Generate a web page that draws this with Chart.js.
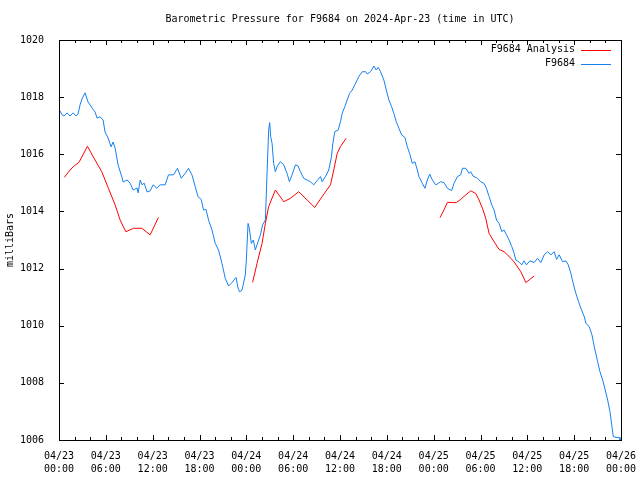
<!DOCTYPE html>
<html>
<head>
<meta charset="utf-8">
<script src="https://cdn.jsdelivr.net/npm/chart.js"></script>
<style>
  body { margin: 0; background: #fff; }
  #wrap { width: 640px; height: 480px; }
</style>
</head>
<body>
<div id="wrap"><canvas id="myChart" width="640" height="480"></canvas></div>
<script>
// hours since 04/23 00:00 UTC
var blueHours = [
  0.13, 0.39, 0.64, 1.03, 1.41, 1.80, 2.18, 2.44, 2.70, 2.95,
  3.34, 3.72, 4.24, 4.62, 4.88, 5.26, 5.65, 5.90, 6.29, 6.67,
  6.93, 7.19, 7.57, 8.09, 8.21, 8.73, 9.11, 9.50, 10.01, 10.14,
  10.40, 10.65, 10.91, 11.29, 11.68, 12.06, 12.54, 12.96, 13.60, 14.03,
  14.67, 15.18, 15.66, 16.17, 16.59, 17.03, 17.45, 17.80, 18.22, 18.52,
  18.83, 19.16, 19.60, 20.02, 20.44, 20.88, 21.30, 21.73, 22.16, 22.68,
  22.93, 23.14, 23.45, 23.87, 24.00, 24.22, 24.38, 24.64, 24.90, 25.15,
  25.50, 25.80, 26.09, 26.44, 26.66, 26.86, 26.99, 27.12, 27.30, 27.50,
  27.72, 27.94, 28.36, 28.79, 29.22, 29.52, 29.86, 30.29, 30.63, 30.93,
  31.35, 31.79, 32.21, 32.64, 33.07, 33.50, 33.71, 34.14, 34.56, 34.91,
  35.08, 35.33, 35.77, 36.06, 36.28, 36.62, 36.92, 37.22, 37.57, 37.99,
  38.41, 38.85, 39.27, 39.49, 39.91, 40.34, 40.65, 40.90, 41.20, 41.62,
  41.93, 42.26, 42.61, 42.90, 43.21, 43.55, 43.89, 44.32, 44.62, 44.92,
  45.27, 45.60, 45.91, 46.11, 46.55, 46.88, 47.19, 47.49, 47.83, 48.26,
  48.64, 48.90, 49.32, 49.76, 50.31, 50.60, 51.04, 51.46, 51.68, 52.11,
  52.53, 52.75, 53.04, 53.61, 54.03, 54.46, 54.76, 55.10, 55.44, 55.74,
  56.05, 56.38, 56.73, 57.02, 57.33, 57.66, 58.01, 58.31, 58.52, 58.74,
  59.04, 59.29, 59.59, 59.89, 60.32, 60.87, 61.31, 61.73, 62.16, 62.59,
  63.02, 63.44, 63.75, 64.08, 64.52, 64.94, 65.24, 65.58, 65.88, 66.22,
  66.57, 66.86, 67.29, 67.51, 67.93, 68.28, 68.57, 69.01, 69.30, 69.65,
  69.98, 70.29, 70.59, 70.84, 71.01, 71.36, 71.78, 71.87
];
var blueValues = [
  1017.52, 1017.38, 1017.34, 1017.45, 1017.34, 1017.45, 1017.34, 1017.41, 1017.73, 1017.94,
  1018.15, 1017.83, 1017.62, 1017.48, 1017.27, 1017.31, 1017.20, 1016.78, 1016.57, 1016.26,
  1016.43, 1016.22, 1015.63, 1015.17, 1015.03, 1015.10, 1014.99, 1014.75, 1014.82, 1014.65,
  1015.10, 1014.93, 1014.99, 1014.68, 1014.72, 1014.93, 1014.81, 1014.93, 1014.93, 1015.28,
  1015.28, 1015.51, 1015.16, 1015.33, 1015.51, 1015.28, 1014.87, 1014.52, 1014.42, 1014.05,
  1014.07, 1013.70, 1013.35, 1012.88, 1012.65, 1012.18, 1011.66, 1011.39, 1011.51, 1011.69,
  1011.32, 1011.19, 1011.25, 1011.78, 1012.30, 1013.58, 1013.41, 1012.88, 1013.00, 1012.65,
  1012.94, 1013.18, 1013.53, 1013.70, 1015.39, 1016.85, 1017.11, 1016.62, 1016.38, 1015.68,
  1015.39, 1015.57, 1015.74, 1015.63, 1015.33, 1015.04, 1015.28, 1015.63, 1015.59, 1015.39,
  1015.16, 1015.10, 1015.04, 1014.93, 1015.08, 1015.22, 1015.04, 1015.22, 1015.45, 1015.92,
  1016.38, 1016.79, 1016.85, 1017.14, 1017.43, 1017.67, 1017.90, 1018.13, 1018.25, 1018.48,
  1018.72, 1018.89, 1018.89, 1018.81, 1018.89, 1019.09, 1018.95, 1019.04, 1018.89, 1018.60,
  1018.25, 1017.90, 1017.67, 1017.43, 1017.14, 1016.91, 1016.68, 1016.59, 1016.27, 1016.03,
  1015.68, 1015.74, 1015.45, 1015.22, 1014.98, 1014.81, 1015.10, 1015.31, 1015.10, 1014.93,
  1014.99, 1015.04, 1015.01, 1014.81, 1014.73, 1014.98, 1015.22, 1015.28, 1015.51, 1015.51,
  1015.33, 1015.39, 1015.24, 1015.16, 1015.04, 1014.98, 1014.81, 1014.52, 1014.23, 1014.05,
  1013.70, 1013.58, 1013.29, 1013.35, 1013.18, 1013.00, 1012.77, 1012.53, 1012.30, 1012.27,
  1012.20, 1012.13, 1012.27, 1012.13, 1012.27, 1012.21, 1012.36, 1012.21, 1012.48, 1012.59,
  1012.48, 1012.59, 1012.32, 1012.48, 1012.24, 1012.27, 1012.13, 1011.83, 1011.48, 1011.13,
  1010.84, 1010.61, 1010.32, 1010.08, 1009.97, 1009.68, 1009.27, 1008.74, 1008.39, 1008.10,
  1007.75, 1007.40, 1006.99, 1006.47, 1006.12, 1006.09, 1006.09, 1006.00
];
// analysis runs, null = gap between runs
var redHours = [
  0.68, 1.19, 1.83, 2.57, 3.64, 4.62, 5.48, 6.33, 7.19, 7.83,
  8.56, 9.54, 10.61, 11.68, 12.74, 18,
  24.81, 25.37, 26.01, 26.44, 26.86, 27.72, 28.79, 29.65, 30.71, 31.79,
  32.76, 33.71, 34.78, 35.20, 35.64, 36.06, 36.79, 42,
  48.81, 49.32, 49.76, 50.40, 50.91, 51.46, 52.11, 52.75, 53.39, 53.81,
  54.25, 54.67, 55.10, 55.74, 56.38, 57.02, 57.46, 57.88, 58.31, 59.17,
  59.81, 60.32, 60.87
];
var redValues = [
  1015.19, 1015.37, 1015.57, 1015.72, 1016.28, 1015.80, 1015.39, 1014.81, 1014.23, 1013.70,
  1013.29, 1013.41, 1013.41, 1013.18, 1013.79, null,
  1011.52, 1012.18, 1012.88, 1013.58, 1014.17, 1014.75, 1014.34, 1014.46, 1014.69, 1014.40,
  1014.14, 1014.52, 1014.93, 1015.45, 1016.03, 1016.27, 1016.56, null,
  1013.78, 1014.05, 1014.32, 1014.31, 1014.31, 1014.42, 1014.58, 1014.72, 1014.63, 1014.40,
  1014.11, 1013.76, 1013.23, 1012.94, 1012.67, 1012.59, 1012.48, 1012.36, 1012.23, 1011.89,
  1011.51, 1011.62, 1011.74
];
var seriesNames = ['F9684 Analysis', 'F9684'];
var seriesColors = ['#ff0000', '#1480f0'];
var titleText = 'Barometric Pressure for F9684 on 2024-Apr-23 (time in UTC)';
var yTicks = [1006, 1008, 1010, 1012, 1014, 1016, 1018, 1020];

var mono = 'DejaVu Sans Mono';

function pts(hs, vs) {
  var out = [];
  for (var i = 0; i < hs.length; i++) out.push({ x: hs[i], y: vs[i] });
  return out;
}

function pad(n) { return (n < 10 ? '0' : '') + n; }

// gnuplot style frame, inward ticks and legend
var framePlugin = {
  id: 'frame',
  afterDatasetsDraw: function (chart) {
    var c = chart.ctx, a = chart.chartArea;
    var xs = chart.scales.x, ys = chart.scales.y;
    c.save();
    c.strokeStyle = '#000';
    c.lineWidth = 1;
    c.beginPath();
    for (var h = 0; h <= 72; h += 2) {
      var px = Math.round(xs.getPixelForValue(h)) + 0.5;
      var len = h % 6 === 0 ? 5 : 3;
      c.moveTo(px, a.bottom); c.lineTo(px, a.bottom - len);
      c.moveTo(px, a.top); c.lineTo(px, a.top + len);
    }
    yTicks.forEach(function (v) {
      var py = Math.round(ys.getPixelForValue(v)) + 0.5;
      c.moveTo(a.left, py); c.lineTo(a.left + 5, py);
      c.moveTo(a.right, py); c.lineTo(a.right - 5, py);
    });
    c.stroke();
    c.strokeRect(Math.round(a.left) + 0.5, Math.round(a.top) + 0.5,
      Math.round(a.right - a.left), Math.round(a.bottom - a.top));

    // legend, top right inside the plot
    c.font = '10px "' + mono + '"';
    c.textAlign = 'right';
    c.textBaseline = 'middle';
    c.fillStyle = '#000';
    chart.data.datasets.forEach(function (ds, i) {
      var ly = a.top + 9.5 + i * 14;
      c.fillText(ds.label, a.right - 46, ly);
      c.strokeStyle = ds.borderColor;
      c.beginPath();
      c.moveTo(a.right - 40, Math.round(ly) + 0.5);
      c.lineTo(a.right - 10, Math.round(ly) + 0.5);
      c.stroke();
    });
    c.restore();
  }
};

var ctx = document.getElementById('myChart').getContext('2d');
var myChart = new Chart(ctx, {
  type: 'line',
  data: {
    datasets: [
      {
        label: seriesNames[0],
        data: pts(redHours, redValues),
        borderColor: seriesColors[0],
        borderWidth: 1,
        pointRadius: 0,
        spanGaps: false,
        tension: 0
      },
      {
        label: seriesNames[1],
        data: pts(blueHours, blueValues),
        borderColor: seriesColors[1],
        borderWidth: 1,
        pointRadius: 0,
        tension: 0
      }
    ]
  },
  options: {
    responsive: false,
    animation: false,
    parsing: false,
    layout: { padding: { left: 0, right: 19, top: 0, bottom: 0 } },
    plugins: {
      legend: { display: false },
      tooltip: { enabled: false },
      title: {
        display: true,
        text: titleText,
        fullSize: false,
        color: '#000',
        font: { family: mono, size: 10, weight: 'normal', lineHeight: 1.2 },
        padding: { top: 13, bottom: 15 }
      }
    },
    scales: {
      x: {
        type: 'linear',
        min: 0,
        max: 72,
        grid: { display: false },
        border: { display: false },
        afterFit: function (s) { s.height = 40; },
        ticks: {
          stepSize: 6,
          autoSkip: false,
          maxRotation: 0,
          padding: 2,
          color: '#000',
          font: { family: mono, size: 10, lineHeight: '13px' },
          callback: function (v) {
            var day = 23 + Math.floor(v / 24);
            return ['04/' + pad(day), pad(v % 24) + ':00'];
          }
        }
      },
      y: {
        min: 1006,
        max: 1020,
        grid: { display: false },
        border: { display: false },
        afterFit: function (s) { s.width = 59; },
        ticks: {
          stepSize: 2,
          padding: 7,
          color: '#000',
          font: { family: mono, size: 10 },
          callback: function (v) { return String(v); }
        },
        title: {
          display: true,
          text: 'milliBars',
          color: '#000',
          font: { family: mono, size: 10, lineHeight: 1.2 },
          padding: { top: 4, bottom: 0 }
        }
      }
    }
  },
  plugins: [framePlugin]
});
</script>
</body>
</html>
